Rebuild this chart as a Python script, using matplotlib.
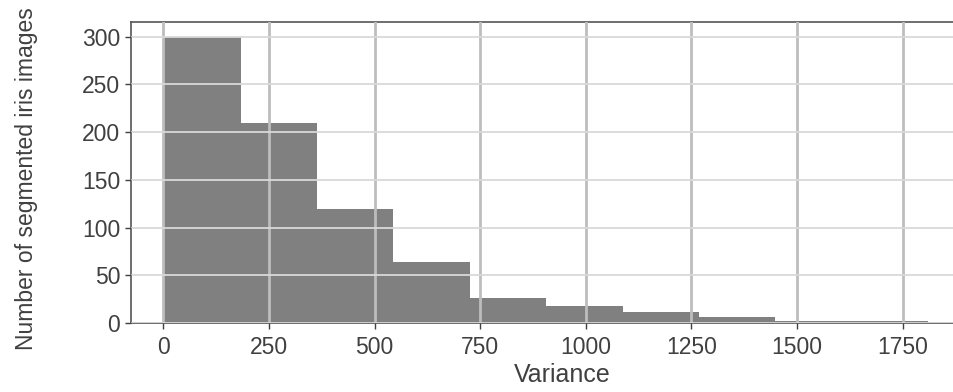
import matplotlib
matplotlib.use('Agg')
import matplotlib.pyplot as plt

# histogram bin edges and counts
bin_edges = [2, 183, 364, 544, 725, 906, 1087, 1268, 1448, 1629, 1810]
counts = [300, 210, 119, 64, 26, 18, 12, 6, 2, 2]
x_ticks = [0, 250, 500, 750, 1000, 1250, 1500, 1750]
y_ticks = [0, 50, 100, 150, 200, 250, 300]

plt.rcParams['font.family'] = ['Liberation Sans', 'DejaVu Sans']

fig = plt.figure(figsize=(9.54, 3.92), dpi=100)
ax = fig.add_axes([0.137, 0.176, 0.904, 0.768])

widths = [bin_edges[i + 1] - bin_edges[i] for i in range(len(counts))]
ax.bar(bin_edges[:-1], counts, width=widths, align='edge', color='#808080',
       edgecolor='none', zorder=1)

ax.set_xlim(-77, 1964)
ax.set_ylim(0, 315.5)
ax.set_xticks(x_ticks)
ax.set_yticks(y_ticks)

ax.grid(axis='x', color='#bdbdbd', linewidth=2, zorder=2)
ax.grid(axis='y', color='#d9d9d9', linewidth=1.3, zorder=2)
ax.set_axisbelow(False)

for side in ['left', 'top', 'bottom']:
    ax.spines[side].set_color('#555555')
    ax.spines[side].set_linewidth(1.2)
ax.spines['right'].set_visible(False)

ax.tick_params(axis='both', colors='#404040', labelsize=16.5, length=4.5, width=1)
ax.tick_params(axis='x', pad=5)
ax.tick_params(axis='y', pad=3)

ax.set_xlabel('Variance', fontsize=18, color='#404040', labelpad=3)
ax.set_ylabel('Number of segmented iris images', fontsize=16.5, color='#404040')
ax.yaxis.set_label_coords(-0.108, 0.48)

fig.savefig('out.png', dpi=100)
